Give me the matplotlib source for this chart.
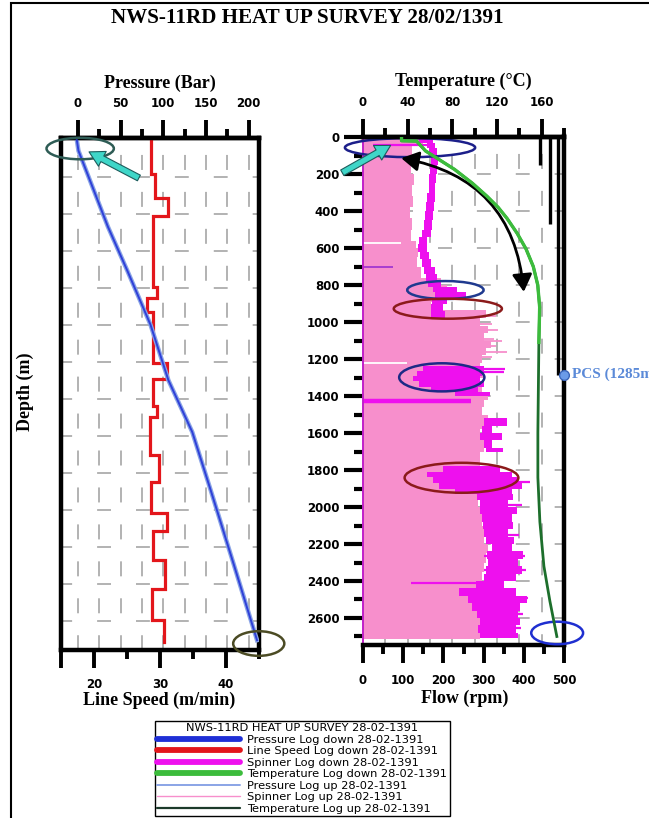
import numpy as np
import matplotlib
matplotlib.use("Agg")
import matplotlib.pyplot as plt
import matplotlib.transforms as mtransforms
from matplotlib.patches import Ellipse, Rectangle
from matplotlib.lines import Line2D

plt.rcParams['lines.scale_dashes'] = False

# ------------------------------------------------------------------ data
title = "NWS-11RD HEAT UP SURVEY 28/02/1391"

# Pressure (bar) vs depth (m)
press_depth = [0, 60, 470, 710, 1000, 1300, 1580, 1900, 2300, 2705]
press_down = [-1.5, 0.5, 35, 58, 85, 106, 134, 156, 183, 210]
press_up = [-1.5, 0.5, 35, 58, 85, 106, 134, 156, 183, 210]

# Line speed (m/min), step log: value applies between consecutive depths
ls_depth = [0, 184, 315, 413, 797, 858, 931, 1207, 1293, 1437,
            1499, 1704, 1848, 2017, 2113, 2271, 2427, 2596, 2716]
ls_speed = [28.7, 29.2, 31.2, 28.9, 29.6, 28.0, 29.0, 31.1, 29.0, 29.5,
            28.5, 29.8, 28.6, 31.1, 28.9, 30.8, 28.8, 30.6]

# Temperature (C)
temp_dn_depth = [0, 20, 22, 75, 175, 250, 320, 380, 440, 520, 605, 700,
                 800, 920, 1110]
temp_dn = [34.5, 34.5, 48, 56, 82, 98, 111, 121, 129, 138, 146, 152.5,
           156.5, 158.2, 157.5]
temp_up_depth = [0, 20, 22, 75, 175, 250, 320, 380, 440, 520, 605, 700,
                 800, 920, 1110, 1600, 1840, 2080, 2320, 2510, 2700]
temp_up = [34.5, 34.5, 48, 56, 82, 98, 111, 121, 129, 138, 146, 152.5,
           156.5, 158.2, 157.5, 156.6, 156.6, 158.4, 162, 167.4, 173.6]

# Spinner log up (rpm) - outer edge of the pink trace
spin_up_depth = [0, 40, 90, 140, 200, 260, 320, 380, 440, 500,
                 560, 600, 650, 700, 760, 800, 850, 890, 935, 980,
                 1020, 1060, 1100, 1140, 1180, 1220, 1260, 1300, 1340, 1380,
                 1420, 1460, 1500, 1540, 1580, 1620, 1660, 1700, 1760, 1800,
                 1850, 1900, 1950, 2000, 2050, 2100, 2150, 2200, 2250, 2300,
                 2350, 2400, 2450, 2500, 2550, 2600, 2650, 2700, 2715]
spin_up_flow = [150, 122, 125, 119, 126, 121, 124, 118, 123, 120,
                132, 138, 135, 145, 195, 210, 190, 170, 305, 290,
                312, 300, 318, 305, 296, 290, 300, 285, 295, 310,
                300, 295, 312, 300, 290, 305, 300, 290, 290, 300,
                295, 300, 285, 300, 295, 305, 300, 310, 305, 300,
                295, 290, 285, 300, 290, 300, 295, 290, 290]
spin_up_spike_depth = [965, 1010, 1045, 1090, 1105, 1130, 1160, 1190]
spin_up_spike_to = [330, 322, 336, 326, 345, 331, 358, 322]
spin_up_gap_depth = [575, 1222]
spin_up_gap_to = [95, 110]

# Spinner log down (rpm) - band of the magenta trace
spin_dn_depth = [10, 30, 60, 100, 150, 200, 250, 300, 350, 400,
                 450, 500, 540, 580, 620, 660, 700, 740, 780, 810,
                 840, 870, 900, 940, 980, 1240, 1265, 1290, 1320, 1350,
                 1380, 1400, 1520, 1560, 1600, 1640, 1680, 1700, 1780, 1810,
                 1840, 1870, 1900, 1930, 1960, 2000, 2040, 2080, 2120, 2160,
                 2200, 2240, 2280, 2320, 2360, 2400, 2440, 2480, 2520, 2560,
                 2600, 2640, 2680, 2710]
spin_dn_lo = [140, 158, 165, 168, 166, 165, 163, 160, 157, 154,
              151, 146, 140, 138, 143, 148, 152, 156, 162, 175,
              180, 172, 168, 170, 300, 150, 135, 125, 140, 170,
              230, 300, 300, 295, 290, 300, 307, 300, 200, 160,
              175, 190, 230, 283, 290, 290, 295, 298, 300, 305,
              320, 308, 310, 305, 300, 280, 240, 260, 270, 283,
              290, 285, 290, 290]
spin_dn_hi = [175, 180, 185, 186, 184, 182, 180, 178, 176, 174,
              171, 168, 160, 158, 163, 170, 178, 185, 195, 235,
              255, 210, 200, 205, 300, 300, 295, 290, 300, 285,
              315, 300, 357, 320, 346, 320, 348, 300, 340, 370,
              383, 395, 370, 373, 360, 382, 370, 373, 360, 375,
              370, 398, 385, 395, 380, 350, 380, 408, 390, 385,
              390, 380, 385, 385]
spin_dn_spike_depth = [45, 1252, 1272, 1390, 1530, 1865, 2410, 2490,
                       1990, 2150, 2265, 2340, 2580, 2655]
spin_dn_spike_from = [25, 250, 250, 250, 300, 350, 120, 350,
                      300, 300, 300, 300, 300, 300]
spin_dn_spike_to = [160, 352, 350, 316, 357, 415, 340, 410,
                    395, 388, 402, 405, 398, 392]
spin_dn_bar_depth = [1425]
spin_dn_bar_to = [268]
stray_depth = [703]
stray_to = [74]

# Casing strings and production casing shoe
casing_flow = [441, 466, 484]
casing_shoe = [150, 470, 1285]
pcs_depth = 1285

press_ticks = [0, 50, 100, 150, 200]
press_minor = [25, 75, 125, 175]
ls_ticks = [15, 20, 30, 40]
ls_labels = ["", "20", "30", "40"]
ls_minor = [25, 35, 45]
temp_ticks = [0, 40, 80, 120, 160]
temp_minor = [20, 60, 100, 140, 180]
flow_ticks = [0, 100, 200, 300, 400, 500]
flow_minor = [50, 150, 250, 350, 450]
depth_ticks = list(range(0, 2601, 200))
depth_minor = list(range(100, 2701, 200))

legend_title = "NWS-11RD HEAT UP SURVEY 28-02-1391"
legend_labels = ["Pressure Log down 28-02-1391", "Line Speed Log down 28-02-1391",
                 "Spinner Log down 28-02-1391", "Temperature Log down 28-02-1391",
                 "Pressure Log up 28-02-1391", "Spinner Log up 28-02-1391",
                 "Temperature Log up 28-02-1391"]

# ------------------------------------------------------------------ style
BLUE = '#1f2fd6'
BLUE_UP = '#8aa4e6'
RED = '#e3161b'
MAG = '#ee10ee'
PINK = '#f78fcc'
GREEN = '#3cbc3c'
DKGREEN = '#1d6f2c'
TEMP_UP_LEG = '#1b3a2a'
GRID = '#a6a6a6'
SERIF = 'Liberation Serif'
SANS = 'DejaVu Sans'

W, H = 649.0, 818.0
fig = plt.figure(figsize=(W / 100, H / 100), dpi=100)


def box(x0, y0, x1, y1):
    return [x0 / W, 1 - y1 / H, (x1 - x0) / W, (y1 - y0) / H]


axL = fig.add_axes(box(61, 138, 259, 650))
axP = axL.twiny()
axF = fig.add_axes(box(363, 136.5, 564, 645))
axT = axF.twiny()

axL.set_xlim(15.2, 45.0)
axL.set_ylim(2758, -9)
axP.set_xlim(-20, 212.3)
axF.set_xlim(0, 500)
axF.set_ylim(2746, -3)
axT.set_xlim(0, 180)

vdash = (14.4, (10.8, 15.8))
hdash = (2.0, (10.0, 18.0))

# grids (under the data)
tL = mtransforms.blended_transform_factory(axP.transData, axL.transAxes)
for p in range(0, 201, 25):
    axL.add_line(Line2D([p, p], [1, 0], transform=tL, color=GRID, lw=1.2,
                        ls=vdash, zorder=0.5))
for d in range(200, 2601, 200):
    axL.add_line(Line2D([0, 1], [d, d], transform=axL.get_yaxis_transform(),
                        color=GRID, lw=1.2, ls=hdash, zorder=0.5))
tR = mtransforms.blended_transform_factory(axT.transData, axF.transAxes)
for t in range(20, 161, 20):
    axF.add_line(Line2D([t, t], [1, 0], transform=tR, color=GRID, lw=1.2,
                        ls=vdash, zorder=0.5))
for d in range(200, 2601, 200):
    axF.add_line(Line2D([0, 1], [d, d], transform=axF.get_yaxis_transform(),
                        color=GRID, lw=1.2, ls=hdash, zorder=0.5))

# ---- left panel data
ls_y = np.repeat(ls_depth, 2)[1:-1]
ls_x = np.repeat(ls_speed, 2)
axL.plot(ls_x, ls_y, color=RED, lw=2.3, zorder=3, solid_joinstyle='miter')
axP.plot(press_up, press_depth, color=BLUE_UP, lw=3.2, zorder=2)
axP.plot(press_down, press_depth, color=BLUE, lw=1.4, zorder=3, alpha=0.85)

# ---- right panel data
axF.fill_betweenx(spin_up_depth, 0, spin_up_flow, step='post', color=PINK,
                  lw=0, zorder=1)
axF.hlines(spin_up_spike_depth, 280, spin_up_spike_to, colors=PINK, lw=1.3, zorder=1)
axF.hlines(spin_up_gap_depth, 0, spin_up_gap_to, colors='white', lw=1.3, zorder=1.5)
axF.fill_betweenx(spin_dn_depth, spin_dn_lo, spin_dn_hi, step='post', color=MAG,
                  lw=0, zorder=2)
axF.hlines(spin_dn_spike_depth, spin_dn_spike_from, spin_dn_spike_to, colors=MAG,
           lw=1.6, zorder=2)
axF.hlines(spin_dn_bar_depth, 0, spin_dn_bar_to, colors=MAG, lw=3.2, zorder=2)
axF.hlines(stray_depth, 0, stray_to, colors='#9b30d0', lw=1.2, zorder=2)

axF.vlines(casing_flow, 0, casing_shoe, colors='black', lw=2.4, zorder=4)
axF.plot([500], [pcs_depth], 'o', ms=7, mfc='#6b9be8', mec='#3a64b8', mew=1,
         clip_on=False, zorder=8)
axF.annotate("PCS (1285m)", xy=(500, pcs_depth), xytext=(6, 0),
             textcoords='offset points', ha='left', va='center',
             color='#5b8ad8', fontsize=11, fontweight='bold', family=SERIF,
             annotation_clip=False)

axT.plot(temp_up, temp_up_depth, color=DKGREEN, lw=2.0, zorder=3)
axT.plot(temp_dn, temp_dn_depth, color=GREEN, lw=2.4, zorder=4)

# ---- annotations (ellipses and arrows)
ek = dict(fill=False, clip_on=False, zorder=6, lw=1.8)
axP.add_patch(Ellipse((2.5, 48), 79, 116, ec='#2e5c55', **ek))
axP.add_patch(Ellipse((212, 2723), 60, 133, ec='#4b4b24', **ek))
axF.add_patch(Ellipse((117, 57), 324, 103, ec='#1c1f8a', **ek))
axF.add_patch(Ellipse((205, 827), 190, 97, ec='#1f3a8f', **ek))
axF.add_patch(Ellipse((211, 928), 269, 108, ec='#8b1a1a', **ek))
axF.add_patch(Ellipse((196, 1299), 212, 152, ec='#1c2a86', **ek))
axF.add_patch(Ellipse((245, 1842), 283, 162, ec='#8b1a1a', **ek))
axF.add_patch(Ellipse((483, 2681), 129, 122, ec='#1f2fd0', **ek))

cyan = dict(arrowstyle='simple,head_length=0.9,head_width=1.0,tail_width=0.38',
            fc='#3fd6c8', ec='#1d5c5c', lw=0.8, mutation_scale=12,
            shrinkA=0, shrinkB=0)
axP.annotate('', xy=(12.9, 66), xytext=(71.4, 207), arrowprops=cyan,
             annotation_clip=False, zorder=7)
axF.annotate('', xy=(68.8, 45), xytext=(-51.6, 193), arrowprops=cyan,
             annotation_clip=False, zorder=7)
axF.annotate('', xy=(400, 837), xytext=(95, 114),
             arrowprops=dict(arrowstyle='<|-|>,head_length=0.7,head_width=0.4',
                             connectionstyle='arc3,rad=-0.38', color='black',
                             lw=2.0, mutation_scale=15, shrinkA=0, shrinkB=0),
             annotation_clip=False, zorder=7)

# ---- axes decoration
tick_font = dict(fontweight='bold', fontsize=8.5, family=SANS)
major = dict(direction='out', length=13, width=2.8, color='black')
minor = dict(direction='out', length=6.5, width=2.8, color='black')

axL.set_xticks(ls_ticks, labels=ls_labels, **tick_font)
axL.set_xticks(ls_minor, minor=True)
axL.tick_params(axis='x', which='major', pad=7, **major)
axL.tick_params(axis='x', which='minor', **minor)
axL.tick_params(axis='y', left=False, labelleft=False)

axP.set_xticks(press_ticks, labels=[str(v) for v in press_ticks], **tick_font)
axP.set_xticks(press_minor, minor=True)
axP.tick_params(axis='x', which='major', pad=7, **major)
axP.tick_params(axis='x', which='minor', **minor)

axF.set_xticks(flow_ticks, labels=[str(v) for v in flow_ticks], **tick_font)
axF.set_xticks(flow_minor, minor=True)
axF.tick_params(axis='x', which='major', pad=8, **major)
axF.tick_params(axis='x', which='minor', **minor)
axF.set_yticks(depth_ticks, labels=[str(v) for v in depth_ticks], **tick_font)
axF.set_yticks(depth_minor, minor=True)
axF.tick_params(axis='y', which='major', pad=3, direction='out', length=14,
                width=3.0, color='black')
axF.tick_params(axis='y', which='minor', direction='out', length=6.5,
                width=3.0, color='black')

axT.set_xticks(temp_ticks, labels=[str(v) for v in temp_ticks], **tick_font)
axT.set_xticks(temp_minor, minor=True)
axT.tick_params(axis='x', which='major', pad=7, **major)
axT.tick_params(axis='x', which='minor', **minor)

for ax in (axL, axF):
    for s in ax.spines.values():
        s.set_linewidth(3.2)
        s.set_color('black')
for ax in (axP, axT):
    for name, s in ax.spines.items():
        s.set_visible(name == 'top')
        s.set_linewidth(3.2)
axF.spines['left'].set_color('#c020c8')
axF.spines['left'].set_linewidth(1.4)

# ---- texts
lab = dict(fontsize=13, fontweight='bold', family=SERIF, ha='center', va='center')
fig.text(307 / W, 1 - 18 / H, title, fontsize=15.2, fontweight='bold',
         family=SERIF, ha='center', va='center')
fig.text(160 / W, 1 - 83 / H, "Pressure (Bar)", **lab)
fig.text(463 / W, 1 - 81 / H, "Temperature (\u00b0C)", **lab)
fig.text(159 / W, 1 - 700 / H, "Line Speed (m/min)", **lab)
fig.text(465 / W, 1 - 698 / H, "Flow (rpm)", **lab)
fig.text(25 / W, 1 - 392 / H, "Depth (m)", rotation=90, **lab)

# outer frame
fig.add_artist(Rectangle((10.5 / W, -0.5), 2.0, 1.5 - 3 / H,
                         transform=fig.transFigure, fill=False,
                         ec='black', lw=1.5))

# ---- legend (row spacing tuned so the box height matches ~95 px)
leg_styles = [(BLUE, 4.2), (RED, 4.2), (MAG, 4.2), (GREEN, 4.2),
              (BLUE_UP, 1.4), (PINK, 1.0), (TEMP_UP_LEG, 1.6)]
handles = [Line2D([], [], color=c, lw=w, solid_capstyle='round')
           for c, w in leg_styles]
LEG_FS = 8.2


def make_legend(spacing):
    lg = fig.legend(handles, legend_labels, loc='upper left',
                    bbox_to_anchor=(155 / W, 1 - 721 / H),
                    title=legend_title,
                    prop=dict(family=SANS, size=LEG_FS),
                    title_fontproperties=dict(family=SANS, size=LEG_FS),
                    frameon=True, fancybox=False, edgecolor='black',
                    framealpha=1, handlelength=7.3, handletextpad=0.6,
                    labelspacing=spacing, borderpad=0.2, borderaxespad=0)
    lg.get_frame().set_linewidth(1.0)
    return lg


target_h = 95.0
lo, hi = -0.5, 0.5
for _ in range(14):
    mid = 0.5 * (lo + hi)
    lg = make_legend(mid)
    fig.canvas.draw()
    h = lg.get_window_extent().height
    lg.remove()
    if h > target_h:
        hi = mid
    else:
        lo = mid
leg = make_legend(lo)

fig.savefig("out.png", dpi=100)
